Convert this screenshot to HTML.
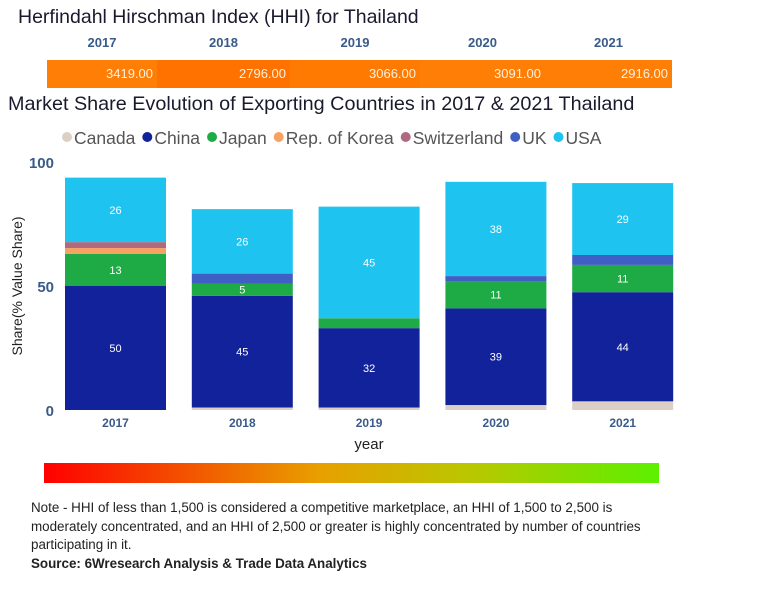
<!DOCTYPE html>
<html><head><meta charset="utf-8"><style>
body{margin:0;width:772px;height:600px;background:#fff;font-family:"Liberation Sans",sans-serif;position:relative;overflow:hidden}
.abs{position:absolute}
</style></head><body>
<div class="abs" style="left:18px;top:6px;font-size:19.5px;color:#1a1a2e">Herfindahl Hirschman Index (HHI) for Thailand</div>
<div id="hhi"></div>
<div class="abs" style="left:8px;top:93px;font-size:19.8px;color:#1a1a2e">Market Share Evolution of Exporting Countries in 2017 &amp; 2021 Thailand</div>
<svg id="chart" class="abs" style="left:0;top:120px" width="772" height="340"></svg>
<div class="abs" style="left:44px;top:463px;width:615px;height:20px;background:linear-gradient(to right,#ff0000,#e8a000 45%,#b8c800 70%,#5cf000)"></div>
<div class="abs" style="left:31px;top:499px;width:640px;font-size:13.4px;line-height:18.5px;color:#222">Note - HHI of less than 1,500 is considered a competitive marketplace, an HHI of 1,500 to 2,500 is moderately concentrated, and an HHI of 2,500 or greater is highly concentrated by number of countries participating in it.<br><b>Source: 6Wresearch Analysis &amp; Trade Data Analytics</b></div>
<script>
const years=["2017","2018","2019","2020","2021"];
const hhiValues=[3419,2796,3066,3091,2916];
const seriesNames=["Canada","China","Japan","Rep. of Korea","Switzerland","UK","USA"];
const canada=[0,1,1,2,3.5];
const china=[50,45,32,39,44];
const japan=[13,5,4,11,11];
const korea=[2.3,0,0,0,0];
const switzerland=[2.4,0,0,0,0];
const uk=[0,4,0,2,4];
const usa=[26,26,45,38,29];
const yTicks=[0,50,100];
const colors=["#dccfc4","#11229a","#1eaa44","#f7a263","#b06a80","#3f5fc4","#1ec3f0"];
const series=[canada,china,japan,korea,switzerland,uk,usa];

const hhi=document.getElementById('hhi');
const cellL=[47,157,290,420,545], cellR=[157,290,420,545,672];
years.forEach((y,i)=>{
  const h=document.createElement('div');
  h.className='abs';
  
  
  h.style.cssText=`left:${cellL[i]}px;width:${cellR[i]-cellL[i]}px;top:35px;text-align:center;font-size:13px;font-weight:bold;color:#3a5a8a`;
  h.textContent=y;hhi.appendChild(h);
  const c=document.createElement('div');
  c.className='abs';
  
  
  c.style.cssText=`left:${cellL[i]}px;width:${cellR[i]-cellL[i]-4}px;padding-right:4px;top:60px;height:28px;line-height:28px;text-align:right;font-size:13px;color:#fff0e0;background:${i==1?'#ff7200':(i==2?'#ff7a00':'#ff7e05')}`;
  c.textContent=hhiValues[i].toFixed(2);hhi.appendChild(c);
});

const svg=document.getElementById('chart');
const NS='http://www.w3.org/2000/svg';
function el(t,a){const e=document.createElementNS(NS,t);for(const k in a)e.setAttribute(k,a[k]);svg.appendChild(e);return e;}
const y0=290, pxPer=2.48;
const yScale=v=>y0-v*pxPer;
const xScale=i=>65+i*126.8;
const bw=101;

let lx=62;
seriesNames.forEach((n,i)=>{
  const c=el('circle',{cx:lx+5,cy:17,r:5,fill:colors[i]});
  
  
  const t=el('text',{x:lx+12,y:24,'font-size':17.5,fill:'#555'});
  
  
  t.textContent=n;
  lx+=12+t.getComputedTextLength()+7;
});

yTicks.forEach(v=>{
  const t=el('text',{x:54,y:yScale(v)+6,'font-size':15,'font-weight':'bold',fill:'#3a5a8a','text-anchor':'end'});
  
  
  t.textContent=v;
});
const yt=el('text',{x:0,y:0,'font-size':14,fill:'#222','text-anchor':'middle',transform:`translate(22,${yScale(50)}) rotate(-90)`});


yt.textContent='Share(% Value Share)';

years.forEach((yr,i)=>{
  let acc=0;
  series.forEach((s,k)=>{
    const v=s[i]; if(v<=0)return;
    const r=el('rect',{x:xScale(i),y:yScale(acc+v),width:bw,height:v*pxPer,fill:colors[k]});
    
    
    if(v>=5){
      const t=el('text',{x:xScale(i)+bw/2,y:yScale(acc+v/2)+4,'font-size':11,fill:'#fff','text-anchor':'middle'});
      
      
      t.textContent=Math.round(v);
    }
    acc+=v;
  });
  const t=el('text',{x:xScale(i)+bw/2,y:307,'font-size':12,'font-weight':'bold',fill:'#3a5a8a','text-anchor':'middle'});
  
  
  t.textContent=yr;
});
const xt=el('text',{x:369,y:329,'font-size':15,fill:'#222','text-anchor':'middle'});


xt.textContent='year';
</script>
</body></html>
